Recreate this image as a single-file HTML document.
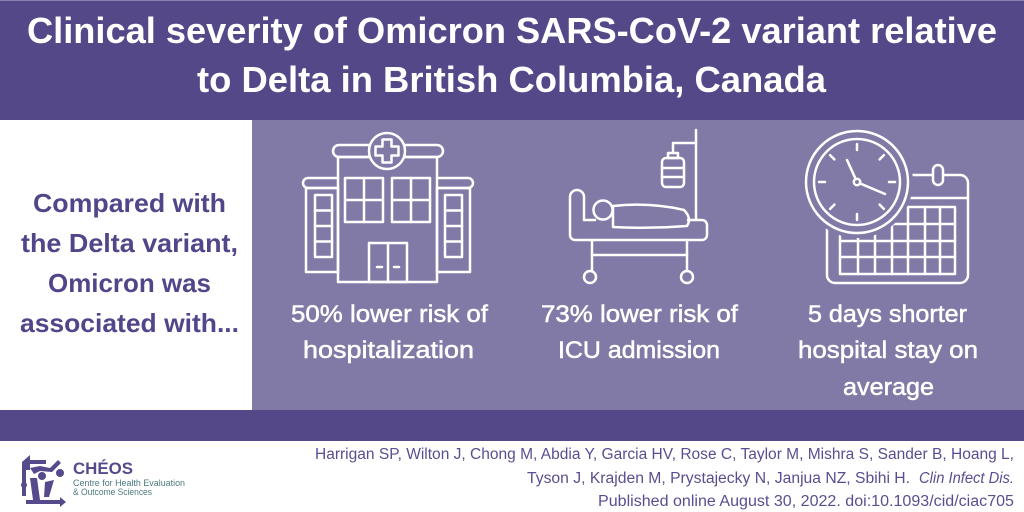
<!DOCTYPE html>
<html>
<head>
<meta charset="utf-8">
<style>
  html,body{margin:0;padding:0;background:#fff;}
  body{width:1024px;height:512px;overflow:hidden;}
  svg{display:block;}
  .t{font-family:"Liberation Sans",sans-serif;}
</style>
</head>
<body>
<svg width="1024" height="512" viewBox="0 0 1024 512" xmlns="http://www.w3.org/2000/svg">
  <!-- backgrounds -->
  <rect x="0" y="0" width="1024" height="512" fill="#ffffff"/>
  <rect x="0" y="0" width="1024" height="120" fill="#554889"/>
  <rect x="0" y="0" width="1024" height="1" fill="#8a80b0"/>
  <rect x="252" y="120" width="772" height="290" fill="#8179a6"/>
  <rect x="0" y="410" width="1024" height="31" fill="#554889"/>

  <!-- title -->
  <g class="t" fill="#ffffff" font-weight="bold" font-size="36">
    <text x="27" y="43" textLength="970" lengthAdjust="spacingAndGlyphs">Clinical severity of Omicron SARS-CoV-2 variant relative</text>
    <text x="197" y="92" textLength="629" lengthAdjust="spacingAndGlyphs">to Delta in British Columbia, Canada</text>
  </g>

  <!-- left text -->
  <g class="t" fill="#52468a" font-weight="bold" font-size="26">
    <text x="33" y="212" textLength="193" lengthAdjust="spacingAndGlyphs">Compared with</text>
    <text x="21" y="252" textLength="217" lengthAdjust="spacingAndGlyphs">the Delta variant,</text>
    <text x="48" y="292" textLength="163" lengthAdjust="spacingAndGlyphs">Omicron was</text>
    <text x="20" y="332" textLength="219" lengthAdjust="spacingAndGlyphs">associated with...</text>
  </g>

  <!-- captions -->
  <g class="t" fill="#ffffff" stroke="#ffffff" stroke-width="0.5" font-size="24">
    <text x="291" y="322" textLength="197" lengthAdjust="spacingAndGlyphs">50% lower risk of</text>
    <text x="303" y="358" textLength="171" lengthAdjust="spacingAndGlyphs">hospitalization</text>
    <text x="541" y="322" textLength="197" lengthAdjust="spacingAndGlyphs">73% lower risk of</text>
    <text x="558" y="358" textLength="162" lengthAdjust="spacingAndGlyphs">ICU admission</text>
    <text x="808" y="322" textLength="159" lengthAdjust="spacingAndGlyphs">5 days shorter</text>
    <text x="798" y="358" textLength="180" lengthAdjust="spacingAndGlyphs">hospital stay on</text>
    <text x="843" y="395" textLength="91" lengthAdjust="spacingAndGlyphs">average</text>
  </g>

  <!-- hospital icon -->
  <g fill="none" stroke="#ffffff" stroke-width="2.5" stroke-linejoin="round" stroke-linecap="round">
    <!-- wings -->
    <rect x="306" y="188" width="32" height="84"/>
    <rect x="437" y="188" width="33" height="84"/>
    <path d="M338,178 L308,178 A5,5 0 0 0 308,188 L338,188"/>
    <path d="M437,178 L468,178 A5,5 0 0 1 468,188 L437,188"/>
    <!-- main block -->
    <rect x="338" y="157" width="99" height="125"/>
    <path d="M369,145 L339,145 A6,6 0 0 0 339,157 L437,157 A6,6 0 0 0 437,145 L405,145"/>
    <circle cx="387" cy="151" r="18" fill="#8179a6"/>
    <path d="M382.5,139.5 h9 v7 h7 v9 h-7 v7 h-9 v-7 h-7 v-9 h7 z"/>
    <!-- main windows -->
    <rect x="345" y="178" width="38" height="44"/>
    <line x1="364" y1="178" x2="364" y2="222"/>
    <line x1="345" y1="200" x2="383" y2="200"/>
    <rect x="392" y="178" width="38" height="44"/>
    <line x1="411" y1="178" x2="411" y2="222"/>
    <line x1="392" y1="200" x2="430" y2="200"/>
    <!-- wing windows -->
    <rect x="315" y="195" width="17" height="62"/>
    <line x1="315" y1="210.5" x2="332" y2="210.5"/>
    <line x1="315" y1="226" x2="332" y2="226"/>
    <line x1="315" y1="241.5" x2="332" y2="241.5"/>
    <rect x="445" y="195" width="17" height="62"/>
    <line x1="445" y1="210.5" x2="462" y2="210.5"/>
    <line x1="445" y1="226" x2="462" y2="226"/>
    <line x1="445" y1="241.5" x2="462" y2="241.5"/>
    <!-- door -->
    <rect x="369" y="243" width="38" height="39"/>
    <line x1="388" y1="243" x2="388" y2="282"/>
    <line x1="377" y1="267" x2="382" y2="267"/>
    <line x1="394" y1="267" x2="399" y2="267"/>
  </g>

  <!-- bed icon -->
  <g fill="none" stroke="#ffffff" stroke-width="2.5" stroke-linejoin="round" stroke-linecap="round">
    <line x1="696" y1="130" x2="696" y2="220"/>
    <path d="M696,143 L673,143 L673,153"/>
    <rect x="668" y="153" width="10" height="5"/>
    <rect x="662" y="158" width="22" height="29" rx="4"/>
    <line x1="662" y1="168" x2="684" y2="168"/>
    <line x1="662" y1="177" x2="684" y2="177"/>
    <path d="M584,220 L584,197 A7,7 0 0 0 570,197 L570,235 A5,5 0 0 0 575,240 L702,240 A5,5 0 0 0 707,235 L707,225 A5,5 0 0 0 702,220 L688,220"/>
    <line x1="584" y1="220" x2="595" y2="220"/>
    <circle cx="603" cy="210" r="9.5"/>
    <path d="M613,206 Q650,202 684,210 Q692,218 687,226 Q650,229 613,227 Z"/>
    <line x1="592" y1="240" x2="592" y2="271"/>
    <line x1="687" y1="240" x2="687" y2="271"/>
    <line x1="592" y1="255" x2="687" y2="255"/>
    <circle cx="590" cy="277" r="6"/>
    <circle cx="687" cy="277" r="6"/>
  </g>

  <!-- calendar + clock icon -->
  <g fill="none" stroke="#ffffff" stroke-width="2.5" stroke-linejoin="round" stroke-linecap="round">
    <rect x="827" y="175" width="141" height="108" rx="8"/>
    <line x1="860" y1="198" x2="967" y2="198"/>
    <rect x="840" y="207" width="115" height="67"/>
    <line x1="858" y1="207" x2="858" y2="274"/>
    <line x1="875" y1="207" x2="875" y2="274"/>
    <line x1="892" y1="207" x2="892" y2="274"/>
    <line x1="908" y1="207" x2="908" y2="274"/>
    <line x1="925" y1="207" x2="925" y2="274"/>
    <line x1="940" y1="207" x2="940" y2="274"/>
    <line x1="840" y1="224" x2="955" y2="224"/>
    <line x1="840" y1="241" x2="955" y2="241"/>
    <line x1="840" y1="257" x2="955" y2="257"/>
    <rect x="933" y="165" width="10" height="20" rx="5" fill="#8179a6"/>
    <circle cx="857" cy="182" r="56" fill="#8179a6" stroke="none"/>
    <circle cx="857" cy="182" r="51"/>
    <circle cx="857" cy="182" r="43"/>
    <g>
      <line x1="857" y1="144" x2="857" y2="150"/>
      <line x1="857" y1="214" x2="857" y2="220"/>
      <line x1="819" y1="182" x2="825" y2="182"/>
      <line x1="889" y1="182" x2="895" y2="182"/>
      <line x1="830.1" y1="155.1" x2="834.4" y2="159.4"/>
      <line x1="883.9" y1="155.1" x2="879.6" y2="159.4"/>
      <line x1="830.1" y1="208.9" x2="834.4" y2="204.6"/>
      <line x1="883.9" y1="208.9" x2="879.6" y2="204.6"/>
    </g>
    <line x1="855.8" y1="179.3" x2="847" y2="160"/>
    <line x1="859.8" y1="183.3" x2="885" y2="194"/>
    <circle cx="857" cy="182" r="3.2"/>
  </g>

  <!-- footer citation -->
  <g class="t" fill="#5a4e90" font-size="15.5">
    <text x="315" y="459" textLength="699" lengthAdjust="spacingAndGlyphs">Harrigan SP, Wilton J, Chong M, Abdia Y, Garcia HV, Rose C, Taylor M, Mishra S, Sander B, Hoang L,</text>
    <text x="527" y="483" textLength="383" lengthAdjust="spacingAndGlyphs">Tyson J, Krajden M, Prystajecky N, Janjua NZ, Sbihi H.</text>
    <text x="919" y="483" textLength="95" lengthAdjust="spacingAndGlyphs" font-style="italic">Clin Infect Dis.</text>
    <text x="598" y="506" textLength="416" lengthAdjust="spacingAndGlyphs">Published online August 30, 2022. doi:10.1093/cid/ciac705</text>
  </g>

  <!-- logo -->
  <g fill="#574a8c" stroke="none">
    <path d="M22,462 L30,455 L30,460 L46,460 L46,464 L30,464 L30,470 L26,470 L26,496 L22,496 Z"/>
    <path d="M30,468 L40,466 L50,468 L58,460 L61,463 L52,472 L40,471 L34,474 Z"/>
    <circle cx="60" cy="473" r="4"/>
    <circle cx="42" cy="476" r="4"/>
    <path d="M30,478 L37,478 L40,500 L33,500 Z"/>
    <path d="M45,482 L54,480 L49,497 L44,497 Z"/>
    <path d="M26,500 L60,500 L60,497 L66,502 L60,507 L60,504 L26,504 Z"/>
    <circle cx="24" cy="485" r="3"/>
  </g>
  <g class="t">
    <text x="73" y="474" font-size="17" font-weight="bold" fill="#574a8c" textLength="60" lengthAdjust="spacingAndGlyphs">CHÉOS</text>
    <text x="73" y="486" font-size="9" fill="#4b7a7c" textLength="112" lengthAdjust="spacingAndGlyphs">Centre for Health Evaluation</text>
    <text x="73" y="495" font-size="9" fill="#4b7a7c" textLength="79" lengthAdjust="spacingAndGlyphs">&amp; Outcome Sciences</text>
  </g>
</svg>
</body>
</html>
